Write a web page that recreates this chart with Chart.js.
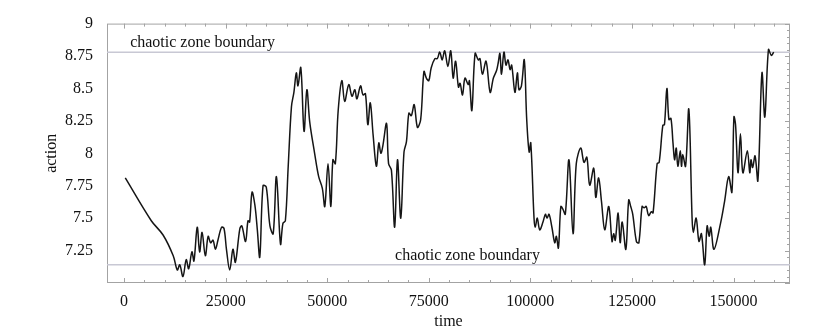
<!DOCTYPE html>
<html>
<head>
<meta charset="utf-8">
<script src="https://cdn.jsdelivr.net/npm/chart.js@4.4.1/dist/chart.umd.min.js"></script>
<style>
  html, body { margin: 0; padding: 0; background: #fff; }
  canvas { display: block; }
</style>
</head>
<body>
<canvas id="actionChart" width="830" height="331"></canvas>
<script>
// time samples
const times = [
  300, 6700, 9600, 12100, 13100, 13700, 14500, 15300, 15900, 16700,
  17200, 18000, 18600, 19200, 20000, 20700, 21300, 21900, 22500, 23100,
  24000, 24600, 25200, 26000, 26800, 27400, 28500, 29000, 29900, 30500,
  30900, 31500, 32200, 32800, 33400, 34200, 35000, 35900, 36700, 37500,
  38500, 39100, 39700, 40400, 41200, 41800, 42400, 42800, 43500, 44300,
  45000, 45700, 46900, 47900, 48800, 49400, 50200, 50900, 51400, 52000,
  52700, 53600, 54300, 55300, 56100, 56800, 57300, 58200, 58800, 59400,
  60000, 60600, 61300, 62100, 62700, 63200, 63700, 64600, 65100, 65800,
  66600, 67300, 68100, 68900, 69500, 70100, 70700, 71400, 72200, 73000,
  73800, 74400, 75000, 75600, 76500, 77100, 77700, 78300, 78900, 79700,
  80400, 81000, 81600, 82300, 82700, 83300, 83900, 84700, 85000, 85600,
  86400, 87200, 87600, 88200, 89100, 90100, 90900, 91700, 92100, 92500,
  92900, 93500, 94000, 94500, 95000, 95400, 96200, 96800, 97200, 97800,
  98500, 99100, 99700, 100100, 100900, 101200, 101700, 102300, 103100, 103700,
  104100, 104600, 105300, 106000, 106400, 106900, 107500, 108000, 108600, 109500,
  110500, 111300, 112400, 113200, 113900, 114600, 115600, 116100, 116800, 117500,
  118300, 119300, 120100, 120500, 120900, 121600, 122100, 122600, 123500, 124200,
  124700, 125200, 126100, 126700, 127500, 128000, 128500, 129100, 129800, 130200,
  131200, 131700, 132600, 133000, 133600, 134100, 134600, 135100, 135500, 135900,
  136300, 136900, 137200, 137500, 138200, 139000, 139800, 140100, 140800, 141500,
  142100, 142900, 143500, 144000, 144400, 145200, 146800, 147800, 148800, 149600,
  150100, 150500, 151100, 151700, 152300, 153400, 154000, 154300, 154700, 155300,
  156000, 157000, 157700, 158600, 159300, 159900
];

const actions = [
  7.81, 7.48, 7.37, 7.21, 7.10, 7.14, 7.05, 7.18, 7.11, 7.24,
  7.17, 7.43, 7.24, 7.39, 7.21, 7.36, 7.31, 7.33, 7.26, 7.33,
  7.43, 7.42, 7.26, 7.10, 7.26, 7.16, 7.42, 7.44, 7.32, 7.48,
  7.47, 7.70, 7.60, 7.41, 7.20, 7.75, 7.74, 7.44, 7.38, 7.82,
  7.30, 7.46, 7.48, 7.90, 8.36, 8.47, 8.62, 8.52, 8.66, 8.17,
  8.49, 8.24, 8.00, 7.82, 7.73, 7.59, 7.92, 7.59, 7.95, 7.92,
  8.33, 8.56, 8.40, 8.53, 8.44, 8.49, 8.42, 8.52, 8.45, 8.46,
  8.22, 8.39, 8.14, 7.90, 8.08, 8.00, 8.06, 8.23, 7.92, 7.87,
  7.43, 7.95, 7.50, 8.01, 8.09, 8.31, 8.29, 8.375, 8.20, 8.26,
  8.63, 8.58, 8.56, 8.66, 8.73, 8.73, 8.78, 8.72, 8.79, 8.67,
  8.79, 8.58, 8.71, 8.51, 8.54, 8.45, 8.58, 8.53, 8.56, 8.33,
  8.77, 8.72, 8.73, 8.61, 8.71, 8.47, 8.58, 8.64, 8.70, 8.77,
  8.61, 8.78, 8.68, 8.72, 8.645, 8.68, 8.47, 8.62, 8.49, 8.52,
  8.72, 8.26, 8.01, 8.08, 7.50, 7.43, 7.50, 7.41, 7.47, 7.53,
  7.50, 7.53, 7.43, 7.31, 7.36, 7.27, 7.59, 7.57, 7.53, 7.95,
  7.38, 7.92, 8.04, 7.93, 7.97, 7.755, 7.885, 7.66, 7.81, 7.63,
  7.41, 7.59, 7.32, 7.38, 7.33, 7.54, 7.31, 7.47, 7.26, 7.64,
  7.59, 7.53, 7.32, 7.31, 7.59, 7.58, 7.59, 7.52, 7.55, 7.54,
  7.92, 7.93, 8.215, 8.22, 8.50, 8.26, 8.27, 8.08, 7.95, 8.04,
  7.90, 8.02, 7.90, 7.99, 7.90, 8.34, 7.50, 7.39, 7.50, 7.32,
  7.38, 7.14, 7.44, 7.36, 7.43, 7.26, 7.46, 7.63, 7.82, 7.70,
  8.28, 8.22, 7.85, 8.15, 7.85, 8.02, 7.85, 7.95, 7.89, 7.98,
  7.79, 8.62, 8.28, 8.80, 8.755, 8.78
];

const xTickValues = [0, 25000, 50000, 75000, 100000, 125000, 150000];
const yTickValues = [7.25, 7.5, 7.75, 8, 8.25, 8.5, 8.75, 9];

const boundaryUpper = 8.78;
const boundaryLower = 7.14;
const boundaryText = 'chaotic zone boundary';

const xMin = -4200;
const xMax = 163900;
const yMin = 7.0;
const yMax = 9.0;

const serif = '"Liberation Serif", "DejaVu Serif", serif';

const series = times.map((t, i) => ({ x: t, y: actions[i] }));

// box, inward tick marks and the two boundary captions
const frameTicks = {
  id: 'frameTicks',
  beforeDatasetsDraw(chart) {
    const { ctx, chartArea: a, scales: { x, y } } = chart;
    ctx.save();
    ctx.strokeStyle = '#a3a3a3';
    ctx.lineWidth = 1;
    ctx.beginPath();
    for (let t = 0; t <= xMax; t += 5000) {
      const px = Math.round(x.getPixelForValue(t)) + 0.5;
      const len = t % 25000 === 0 ? 5 : 3;
      ctx.moveTo(px, a.bottom);
      ctx.lineTo(px, a.bottom - len);
      ctx.moveTo(px, a.top);
      ctx.lineTo(px, a.top + len);
    }
    for (let k = 0; k <= 40; k++) {
      const py = Math.round(y.getPixelForValue(yMin + k * 0.05)) + 0.5;
      const len = k % 5 === 0 ? 5 : 3;
      ctx.moveTo(a.right, py);
      ctx.lineTo(a.right - len, py);
    }
    ctx.stroke();
    ctx.strokeRect(a.left + 0.5, a.top + 0.5, a.width - 1, a.height - 1);
    ctx.restore();
  },
  afterDatasetsDraw(chart) {
    const { ctx, scales: { x, y } } = chart;
    ctx.save();
    ctx.fillStyle = '#111';
    ctx.font = '16px ' + serif;
    ctx.textAlign = 'left';
    ctx.textBaseline = 'alphabetic';
    ctx.fillText(boundaryText, x.getPixelForValue(1500), y.getPixelForValue(boundaryUpper) - 5);
    ctx.fillText(boundaryText, x.getPixelForValue(66700), y.getPixelForValue(boundaryLower) - 5);
    ctx.restore();
  }
};

new Chart(document.getElementById('actionChart'), {
  type: 'line',
  data: {
    datasets: [
      {
        data: series,
        borderColor: '#151515',
        borderWidth: 1.5,
        pointRadius: 0,
        tension: 0.35,
        order: 0
      },
      {
        data: [{ x: xMin, y: boundaryUpper }, { x: xMax, y: boundaryUpper }],
        borderColor: '#c8c8d4',
        borderWidth: 1.5,
        pointRadius: 0,
        order: 1
      },
      {
        data: [{ x: xMin, y: boundaryLower }, { x: xMax, y: boundaryLower }],
        borderColor: '#c8c8d4',
        borderWidth: 1.5,
        pointRadius: 0,
        order: 1
      }
    ]
  },
  options: {
    responsive: false,
    animation: false,
    layout: { padding: { left: 0, top: 10, right: 40, bottom: 0 } },
    plugins: {
      legend: { display: false },
      tooltip: { enabled: false }
    },
    scales: {
      x: {
        type: 'linear',
        min: xMin,
        max: xMax,
        afterBuildTicks: (scale) => {
          scale.ticks = xTickValues.map((v) => ({ value: v }));
        },
        afterFit: (scale) => {
          scale.height = 48;
        },
        grid: { display: false, drawTicks: false },
        border: { display: false },
        ticks: {
          padding: 9,
          color: '#111',
          maxRotation: 0,
          autoSkip: false,
          font: { family: serif, size: 16 },
          callback: (v) => String(v)
        },
        title: {
          display: true,
          text: 'time',
          color: '#111',
          font: { family: serif, size: 16 },
          padding: { top: 0, bottom: 0 }
        }
      },
      y: {
        type: 'linear',
        min: yMin,
        max: yMax,
        afterBuildTicks: (scale) => {
          scale.ticks = yTickValues.map((v) => ({ value: v }));
        },
        afterFit: (scale) => {
          scale.width = 107;
        },
        grid: { display: false, drawTicks: false },
        border: { display: false },
        ticks: {
          padding: 14,
          color: '#111',
          autoSkip: false,
          font: { family: serif, size: 16 },
          callback: (v) => String(v)
        },
        title: {
          display: true,
          text: 'action',
          color: '#111',
          font: { family: serif, size: 16 },
          padding: { top: 42, bottom: 0 }
        }
      }
    }
  },
  plugins: [frameTicks]
});
</script>
</body>
</html>
